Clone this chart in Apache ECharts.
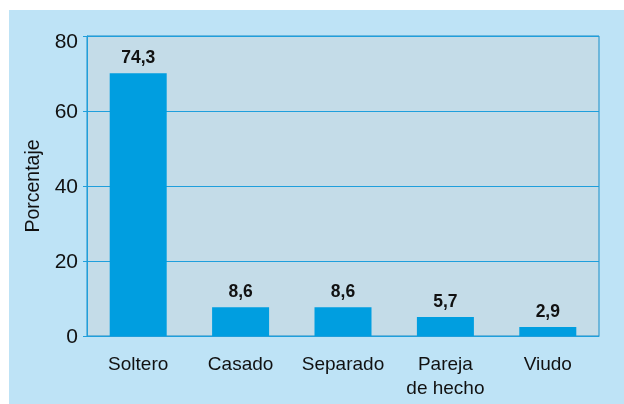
<!DOCTYPE html>
<html>
<head>
<meta charset="utf-8">
<script src="https://cdn.jsdelivr.net/npm/echarts@6/dist/echarts.min.js"></script>
<style>
  body { margin: 0; background: #fff; }
  #chart { position: absolute; left: 9px; top: 10px; width: 615px; height: 394px; background: #bee3f6; }
</style>
</head>
<body>
<div id="chart"></div>
<script>
// categories along the x axis
const categories = ['Soltero', 'Casado', 'Separado', 'Pareja\nde hecho', 'Viudo'];
// bar heights as drawn in the picture
const barValues = [70.1, 7.7, 7.7, 5.1, 2.4];
// printed labels above the bars
const barLabels = ['74,3', '8,6', '8,6', '5,7', '2,9'];

const lineColor = '#1f9fdc';
const font = 'Liberation Sans';

var dom = document.getElementById('chart');
var myChart = echarts.init(dom, null, { renderer: 'canvas' });
var option = {
  animation: false,
  textStyle: { fontFamily: font },
  grid: {
    left: 78, right: 25, top: 26, bottom: 68,
    show: true,
    backgroundColor: '#c4dce8',
    borderColor: '#1b8fc8',
    borderWidth: 1
  },
  xAxis: {
    type: 'category',
    data: categories,
    axisTick: { show: false },
    axisLine: { lineStyle: { color: lineColor, width: 1 } },
    axisLabel: { interval: 0, hideOverlap: false, color: '#111', fontSize: 19, margin: 17, lineHeight: 24, fontFamily: font }
  },
  yAxis: {
    type: 'value',
    min: 0,
    max: 80,
    interval: 20,
    name: 'Porcentaje',
    nameLocation: 'middle',
    nameGap: 43,
    nameMoveOverlap: false,
    nameTextStyle: { color: '#111', fontSize: 19.5, fontFamily: font },
    axisLine: { show: true, lineStyle: { color: lineColor } },
    axisTick: { show: true, length: 4, lineStyle: { color: lineColor } },
    splitLine: { lineStyle: { color: lineColor, width: 1 } },
    axisLabel: {
      color: '#111', fontSize: 21, margin: 9, fontFamily: font,
      formatter: (v) => v === 80 ? '{top|80}' : '{n|' + v + '}',
      rich: {
        top: { fontSize: 21, fontFamily: font, color: '#111', padding: [13, 0, 0, 0] },
        n: { fontSize: 21, fontFamily: font, color: '#111', padding: [3, 0, 0, 0] }
      }
    }
  },
  series: [
    {
      type: 'bar',
      data: barValues,
      barWidth: 57,
      itemStyle: { color: '#009ee0' },
      label: {
        show: true,
        position: 'top',
        distance: 6,
        color: '#111',
        fontSize: 17.5,
        fontWeight: 'bold',
        fontFamily: font,
        formatter: (p) => barLabels[p.dataIndex]
      }
    }
  ]
};
myChart.setOption(option);
</script>
</body>
</html>
